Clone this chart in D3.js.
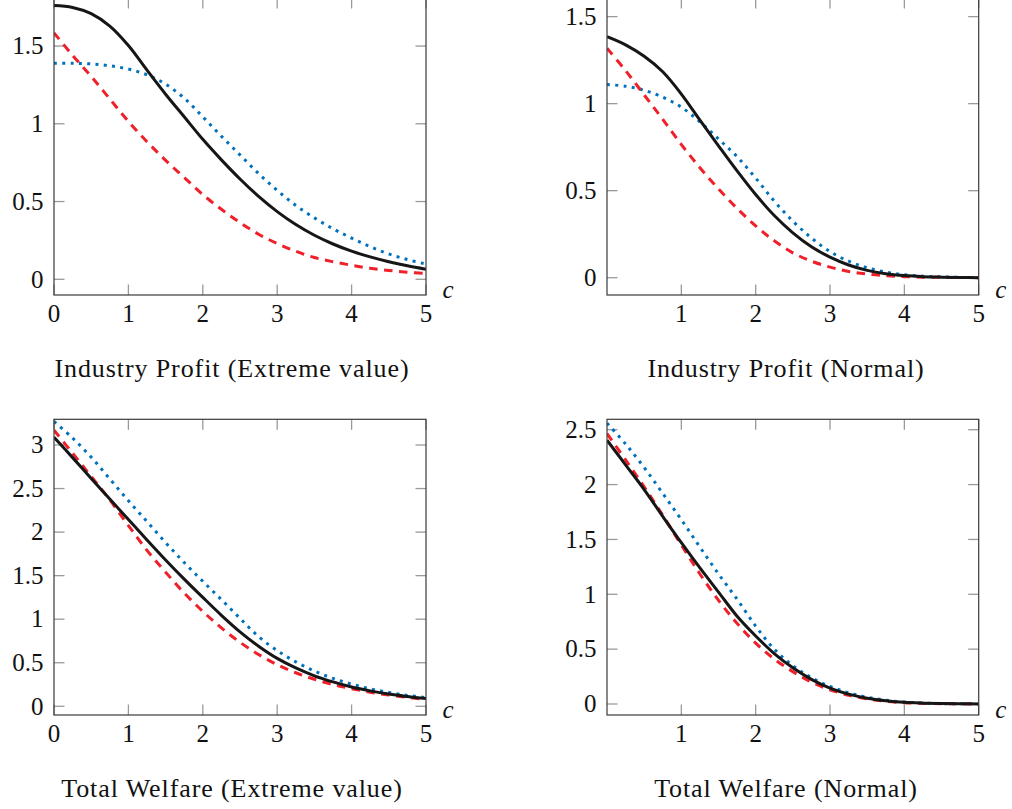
<!DOCTYPE html>
<html>
<head>
<meta charset="utf-8">
<script src="https://cdn.jsdelivr.net/npm/d3@7"></script>
<style>
  html, body { margin: 0; padding: 0; background: #fff; }
  svg { display: block; }
  text { font-family: "Liberation Serif", "Times New Roman", serif; fill: #111; }
</style>
</head>
<body>
<svg id="chart" width="1012" height="809"></svg>
<script>
// Cost parameter c, shared by all four panels
const cValues = [0, 0.25, 0.5, 0.75, 1, 1.25, 1.5, 1.75, 2, 2.25, 2.5, 2.75, 3, 3.25, 3.5, 3.75, 4, 4.25, 4.5, 4.75, 5];

// Industry profit, extreme value (Gumbel) shocks
const profitEVSolid  = [1.76, 1.748, 1.708, 1.628, 1.503, 1.345, 1.19, 1.045, 0.9, 0.768, 0.645, 0.533, 0.435, 0.352, 0.283, 0.227, 0.181, 0.144, 0.113, 0.087, 0.065];
const profitEVDashed = [1.585, 1.44, 1.305, 1.16, 1.015, 0.885, 0.765, 0.655, 0.545, 0.45, 0.365, 0.29, 0.23, 0.18, 0.14, 0.113, 0.09, 0.071, 0.057, 0.046, 0.037];
const profitEVDotted = [1.39, 1.389, 1.385, 1.373, 1.352, 1.315, 1.255, 1.165, 1.045, 0.92, 0.80, 0.68, 0.572, 0.475, 0.395, 0.325, 0.265, 0.21, 0.163, 0.127, 0.098];

// Industry profit, normal shocks
const profitNSolid  = [1.385, 1.338, 1.272, 1.183, 1.055, 0.905, 0.758, 0.614, 0.478, 0.357, 0.258, 0.178, 0.118, 0.073, 0.042, 0.023, 0.012, 0.006, 0.003, 0.001, 0];
const profitNDashed = [1.318, 1.19, 1.05, 0.91, 0.765, 0.632, 0.51, 0.398, 0.298, 0.212, 0.143, 0.095, 0.061, 0.036, 0.021, 0.012, 0.006, 0.003, 0.002, 0.001, 0];
const profitNDotted = [1.11, 1.10, 1.077, 1.037, 0.98, 0.895, 0.797, 0.695, 0.572, 0.44, 0.325, 0.228, 0.15, 0.095, 0.057, 0.032, 0.017, 0.009, 0.005, 0.002, 0.001];

// Total welfare, extreme value shocks
const welfareEVSolid  = [3.09, 2.855, 2.615, 2.38, 2.145, 1.91, 1.68, 1.46, 1.25, 1.045, 0.855, 0.69, 0.55, 0.44, 0.35, 0.28, 0.222, 0.177, 0.14, 0.112, 0.088];
const welfareEVDashed = [3.17, 2.905, 2.64, 2.37, 2.075, 1.79, 1.54, 1.30, 1.09, 0.90, 0.735, 0.595, 0.478, 0.385, 0.31, 0.25, 0.202, 0.162, 0.13, 0.103, 0.08];
const welfareEVDotted = [3.27, 3.08, 2.86, 2.61, 2.36, 2.12, 1.88, 1.65, 1.435, 1.225, 1.01, 0.80, 0.64, 0.51, 0.405, 0.32, 0.255, 0.2, 0.16, 0.125, 0.1];

// Total welfare, normal shocks
const welfareNSolid  = [2.405, 2.18, 1.955, 1.71, 1.47, 1.24, 1.02, 0.80, 0.62, 0.46, 0.33, 0.225, 0.145, 0.09, 0.053, 0.03, 0.015, 0.008, 0.004, 0.002, 0.001];
const welfareNDashed = [2.465, 2.225, 1.98, 1.72, 1.45, 1.185, 0.945, 0.735, 0.555, 0.41, 0.295, 0.2, 0.13, 0.08, 0.046, 0.025, 0.012, 0.006, 0.003, 0.001, 0];
const welfareNDotted = [2.56, 2.37, 2.155, 1.92, 1.68, 1.43, 1.185, 0.955, 0.71, 0.50, 0.35, 0.24, 0.16, 0.102, 0.062, 0.035, 0.018, 0.009, 0.004, 0.002, 0.001];

// Axis tick values and labels
const xTicksFull  = [0, 1, 2, 3, 4, 5];
const xTicksNoZero = [1, 2, 3, 4, 5];
const yTicksProfit = [0, 0.5, 1, 1.5];
const yTicksWelfareEV = [0, 0.5, 1, 1.5, 2, 2.5, 3];
const yTicksWelfareN = [0, 0.5, 1, 1.5, 2, 2.5];

const titles = [
  "Industry Profit (Extreme value)",
  "Industry Profit (Normal)",
  "Total Welfare (Extreme value)",
  "Total Welfare (Normal)"
];

// Line styles for the three series
const styles = {
  dotted: { color: "#0072bd", dash: "3,5.3" },
  dashed: { color: "#f0202a", dash: "8.5,6.5" },
  solid:  { color: "#161616", dash: null }
};

const panels = [
  { title: titles[0], box: { left: 54,  right: 426,   top: -2,    bottom: 295 }, yDomain: [-0.101, 1.809], yTicks: yTicksProfit,    xTicks: xTicksFull,
    series: [["dotted", profitEVDotted], ["dashed", profitEVDashed], ["solid", profitEVSolid]], titleX: 232, titleY: 377 },
  { title: titles[1], box: { left: 607, right: 978.7, top: -2,    bottom: 295 }, yDomain: [-0.0994, 1.607], yTicks: yTicksProfit,   xTicks: xTicksNoZero,
    series: [["dotted", profitNDotted], ["dashed", profitNDashed], ["solid", profitNSolid]], titleX: 786, titleY: 377 },
  { title: titles[2], box: { left: 54,  right: 426,   top: 419.3, bottom: 715 }, yDomain: [-0.0999, 3.295], yTicks: yTicksWelfareEV, xTicks: xTicksFull,
    series: [["dotted", welfareEVDotted], ["dashed", welfareEVDashed], ["solid", welfareEVSolid]], titleX: 232, titleY: 797 },
  { title: titles[3], box: { left: 607, right: 978.7, top: 419.3, bottom: 715 }, yDomain: [-0.1002, 2.595], yTicks: yTicksWelfareN,  xTicks: xTicksNoZero,
    series: [["dotted", welfareNDotted], ["dashed", welfareNDashed], ["solid", welfareNSolid]], titleX: 786, titleY: 797 }
];

const svg = d3.select("#chart");
svg.append("rect").attr("width", 1012).attr("height", 809).attr("fill", "#fff");

const fontSize = 25;
const tickLen = 10.5;
const fmt = v => String(v);

panels.forEach((p, i) => {
  const b = p.box;
  const x = d3.scaleLinear().domain([0, 5]).range([b.left, b.right]);
  const y = d3.scaleLinear().domain(p.yDomain).range([b.bottom, b.top]);
  const g = svg.append("g");

  const clipId = "clip" + i;
  g.append("clipPath").attr("id", clipId)
    .append("rect").attr("x", b.left).attr("y", b.top)
    .attr("width", b.right - b.left).attr("height", b.bottom - b.top);

  // Tick marks on all four sides, pointing inward
  const ticks = g.append("g").attr("stroke", "#9a9a9a").attr("stroke-width", 1.3);
  p.xTicks.forEach(t => {
    ticks.append("line").attr("x1", x(t)).attr("x2", x(t)).attr("y1", b.bottom).attr("y2", b.bottom - tickLen);
    ticks.append("line").attr("x1", x(t)).attr("x2", x(t)).attr("y1", b.top).attr("y2", b.top + tickLen);
  });
  p.yTicks.forEach(t => {
    ticks.append("line").attr("x1", b.left).attr("x2", b.left + tickLen).attr("y1", y(t)).attr("y2", y(t));
    ticks.append("line").attr("x1", b.right).attr("x2", b.right - tickLen).attr("y1", y(t)).attr("y2", y(t));
  });

  // Curves
  const line = d3.line()
    .x((d, k) => x(cValues[k]))
    .y(d => y(d))
    .curve(d3.curveCatmullRom.alpha(0.5));
  const curves = g.append("g").attr("clip-path", `url(#${clipId})`);
  p.series.forEach(([kind, values]) => {
    const s = styles[kind];
    const path = curves.append("path")
      .datum(values)
      .attr("d", line)
      .attr("fill", "none")
      .attr("stroke", s.color)
      .attr("stroke-width", 3)
      .attr("stroke-linejoin", "round");
    if (s.dash) path.attr("stroke-dasharray", s.dash);
  });

  // Axis frame
  g.append("rect")
    .attr("x", b.left).attr("y", b.top)
    .attr("width", b.right - b.left).attr("height", b.bottom - b.top)
    .attr("fill", "none").attr("stroke", "#3a3a3a").attr("stroke-width", 1.2);

  // Tick labels
  g.selectAll(".xl").data(p.xTicks).enter().append("text")
    .attr("x", d => x(d)).attr("y", b.bottom + 26.5)
    .attr("text-anchor", "middle").attr("font-size", fontSize)
    .text(fmt);
  g.selectAll(".yl").data(p.yTicks).enter().append("text")
    .attr("x", b.left - 10.5).attr("y", d => y(d) + fontSize * 0.33)
    .attr("text-anchor", "end").attr("font-size", fontSize)
    .text(fmt);

  // Axis variable label
  g.append("text")
    .attr("x", b.right + 16.5).attr("y", b.bottom + 3)
    .attr("font-size", fontSize).attr("font-style", "italic")
    .text("c");

  // Panel caption
  svg.append("text")
    .attr("x", p.titleX).attr("y", p.titleY)
    .attr("text-anchor", "middle").attr("font-size", 26)
    .attr("letter-spacing", 0.9)
    .text(p.title);
});
</script>
</body>
</html>
